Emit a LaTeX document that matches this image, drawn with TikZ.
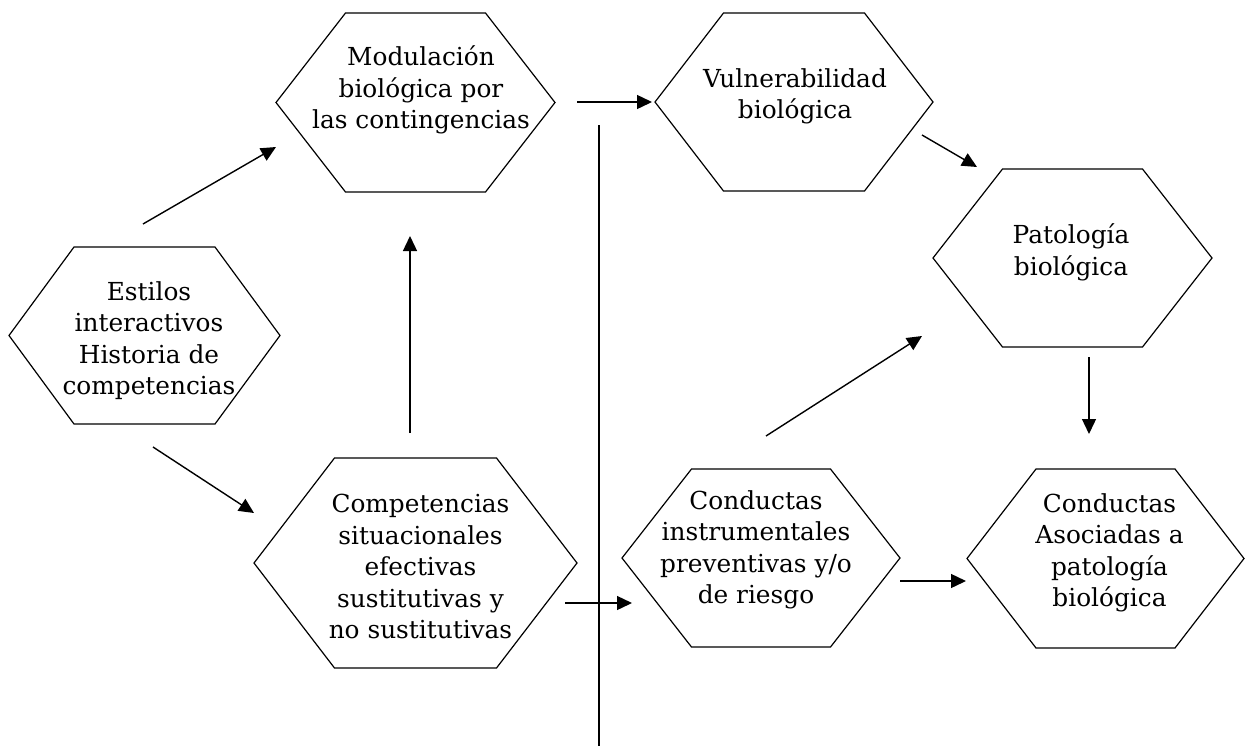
\documentclass[tikz,border=0pt]{standalone}
\usepackage{fontspec}
\setmainfont{DejaVu Serif}
\usetikzlibrary{arrows.meta}
\newcommand\hexdraw[2]{\draw[hexline] (#1.west) -- ([xshift=-#2pt]#1.north) -- ([xshift=#2pt]#1.north) -- (#1.east) -- ([xshift=#2pt]#1.south) -- ([xshift=-#2pt]#1.south) -- cycle;}
\begin{document}
\begin{tikzpicture}[x=1pt,y=-1pt,
  hexbox/.style={draw=none,inner sep=0pt,outer sep=0pt},
  hexline/.style={line width=1.2pt,line join=miter},
  lbl/.style={align=center,font=\fontsize{24.8}{31.5}\selectfont,inner sep=0pt},
  arr/.style={line width=1.4pt,-{Triangle[length=15pt,width=14pt]}},
  plain/.style={line width=1.4pt},
]
\useasboundingbox (0,0) rectangle (1251,753);
% hexagons
\node[hexbox,minimum width=279pt,minimum height=179pt] (mod) at (415.5,102.5) {};
\node[hexbox,minimum width=271pt,minimum height=177pt] (est) at (144.5,335.5) {};
\node[hexbox,minimum width=323pt,minimum height=210pt] (comp) at (415.5,563) {};
\node[hexbox,minimum width=278pt,minimum height=178pt] (vul) at (794,102) {};
\node[hexbox,minimum width=279pt,minimum height=178pt] (pat) at (1072.5,258) {};
\node[hexbox,minimum width=278pt,minimum height=178pt] (condi) at (761,558) {};
\node[hexbox,minimum width=277pt,minimum height=179pt] (conda) at (1105.5,558.5) {};
\hexdraw{mod}{70}
\hexdraw{est}{70.5}
\hexdraw{comp}{81}
\hexdraw{vul}{70.5}
\hexdraw{pat}{70}
\hexdraw{condi}{69.5}
\hexdraw{conda}{69.5}
% labels
\node[lbl] (modt) at (421,90) {Modulación\\biológica por\\las contingencias};
\node[lbl] (estt) at (149,340.5) {Estilos\\interactivos\\Historia de\\competencias};
\node[lbl] (compt) at (420.5,566.5) {Competencias\\situacionales\\efectivas\\sustitutivas y\\no sustitutivas};
\node[lbl] (vult) at (795,96.5) {Vulnerabilidad\\biológica};
\node[lbl] (patt) at (1071,252.5) {Patología\\biológica};
\node[lbl] (condit) at (756,550) {Conductas\\instrumentales\\preventivas y/o\\de riesgo};
\node[lbl] (condat) at (1109.5,553) {Conductas\\Asociadas a\\patología\\biológica};
% connector end points
\coordinate (e1a) at (143,224);  \coordinate (e1b) at (276,147);
\coordinate (e2a) at (153,447);  \coordinate (e2b) at (254,513);
\coordinate (e3a) at (410,433);  \coordinate (e3b) at (410,236);
\coordinate (e4a) at (577,102);  \coordinate (e4b) at (652,102);
\coordinate (e5a) at (922,135);  \coordinate (e5b) at (977,167);
\coordinate (e6a) at (1089,357); \coordinate (e6b) at (1089,434);
\coordinate (e7a) at (565,603);  \coordinate (e7b) at (632,603);
\coordinate (e8a) at (766,436);  \coordinate (e8b) at (922,336);
\coordinate (e9a) at (900,581);  \coordinate (e9b) at (966,581);
\coordinate (va) at (599,125);   \coordinate (vb) at (599,746);
% connectors
\draw[arr] (e1a) -- (e1b);
\draw[arr] (e2a) -- (e2b);
\draw[arr] (e3a) -- (e3b);
\draw[arr] (e4a) -- (e4b);
\draw[arr] (e5a) -- (e5b);
\draw[arr] (e6a) -- (e6b);
\draw[arr] (e7a) -- (e7b);
\draw[arr] (e8a) -- (e8b);
\draw[arr] (e9a) -- (e9b);
\draw[plain] (va) -- (vb);
\end{tikzpicture}
\end{document}
